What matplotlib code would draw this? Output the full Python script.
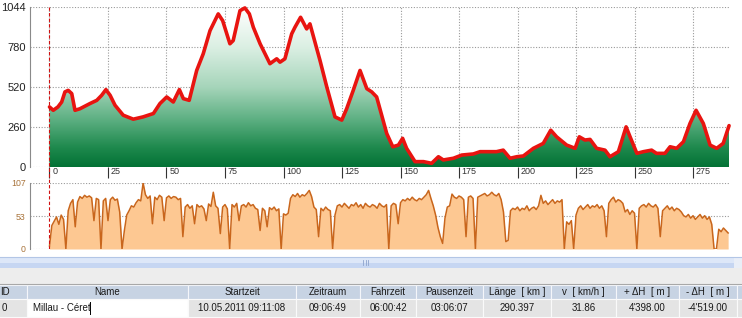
import numpy as np
import matplotlib
matplotlib.use("Agg")
import matplotlib.pyplot as plt
import matplotlib.transforms as mtransforms
from matplotlib.colors import LinearSegmentedColormap
from matplotlib.patches import Rectangle, Polygon

plt.rcParams['font.family'] = ['Liberation Sans', 'DejaVu Sans']

# elevation profile (km, m)
dist_km = [0, 1.6, 3.6, 5.2, 6.6, 8, 9.5, 10.9, 13, 17.3, 20.2, 22.3, 24.1, 25.9, 28,
           31.5, 35.8, 40, 44.4, 47.2, 50.1, 52.9, 55.5, 57.2, 59.7, 62.9, 65.7, 68.6,
           72.1, 74, 77.1, 78.5, 81.4, 83.5, 85.4, 87.1, 90, 94.2, 97.1, 98.5, 100.6,
           103.5, 104.9, 107.3, 109.9, 111.3, 115.6, 118.5, 122, 124.9, 127, 129.8,
           132.7, 135.6, 137.7, 139.8, 144.1, 146.7, 149.1, 150.9, 152.6, 156.2, 159.8,
           163.3, 166.2, 168.3, 172.6, 176.2, 181.1, 184, 188.2, 191, 193.9, 196.8,
           199.7, 202.5, 206.8, 211, 214.2, 216.7, 221, 224.6, 226.4, 228.8, 231,
           233.8, 237.4, 239.5, 243.1, 246.4, 248.1, 251, 253.8, 257.3, 259.4, 263,
           265.2, 268, 270.9, 273.7, 276.3, 279.4, 282.3, 285.1, 287.9, 290.4]
elev_m = [392, 370, 392, 424, 490, 500, 479, 370, 380, 414, 435, 468, 505, 468, 403,
          338, 312, 327, 349, 414, 457, 424, 505, 446, 435, 630, 739, 890,
          999, 955, 804, 825, 1020, 1038, 999, 912, 804, 674, 706, 684, 706,
          869, 912, 977, 901, 934, 695, 522, 327, 306, 381, 500,
          630, 511, 490, 457, 219, 132, 143, 187, 122, 35, 35,
          24, 67, 46, 57, 78, 85, 100, 100, 100, 110, 57,
          67, 72, 122, 154, 240, 197, 143, 122, 197, 176, 180,
          122, 110, 67, 100, 262, 197, 89, 100, 110, 89, 89,
          132, 122, 165, 284, 370, 284, 143, 122, 154, 270]

# speed, one reading per km
speed_km = list(range(0, 291))
speed_kmh = [5, 38, 45, 52, 40, 55, 48, 0, 62, 74,
             80, 36, 76, 85, 82, 87, 84, 86, 83, 46,
             82, 80, 0, 78, 82, 46, 80, 84, 79, 81,
             60, 0, 30, 55, 62, 70, 68, 75, 80, 78,
             107, 88, 82, 86, 41, 84, 80, 87, 84, 46,
             83, 86, 82, 85, 84, 80, 82, 20, 68, 72,
             66, 70, 41, 72, 68, 70, 65, 46, 73, 69,
             92, 70, 66, 25, 68, 72, 65, 0, 72, 68,
             74, 46, 70, 72, 68, 75, 70, 72, 66, 64,
             30, 66, 62, 36, 67, 64, 68, 62, 65, 0,
             57, 55, 58, 82, 88, 85, 90, 84, 88, 86,
             90, 95, 85, 68, 64, 20, 66, 62, 68, 64,
             62, 0, 55, 70, 72, 68, 74, 70, 66, 72,
             70, 75, 68, 72, 66, 74, 70, 68, 72, 70,
             66, 74, 70, 68, 72, 0, 70, 74, 72, 41,
             75, 80, 78, 82, 79, 84, 80, 78, 82, 80,
             84, 88, 95, 82, 70, 55, 35, 20, 9, 50,
             68, 70, 89, 84, 82, 86, 84, 80, 20, 84,
             86, 82, 0, 84, 86, 88, 90, 86, 88, 92,
             88, 86, 90, 80, 60, 12, 14, 62, 66, 64,
             68, 62, 66, 64, 70, 62, 66, 68, 64, 70,
             87, 74, 78, 72, 76, 80, 74, 78, 76, 80,
             0, 44, 40, 46, 0, 55, 66, 70, 64, 68,
             72, 66, 70, 68, 72, 66, 70, 62, 20, 74,
             80, 84, 76, 80, 78, 74, 60, 64, 56, 62,
             58, 0, 66, 70, 72, 68, 74, 70, 68, 72,
             66, 20, 62, 66, 70, 64, 68, 62, 66, 64,
             60, 54, 52, 56, 50, 54, 48, 52, 56, 50,
             54, 48, 52, 40, 0, 0, 32, 28, 34, 30,
             26]

elev_ticks = [0, 260, 520, 780, 1044]
speed_ticks = [0, 53, 107]
km_ticks = [0, 25, 50, 75, 100, 125, 150, 175, 200, 225, 250, 275]

table_headers = ["ID", "Name", "Startzeit", "Zeitraum", "Fahrzeit", "Pausenzeit",
                 "Länge  [ km ]", "v  [ km/h ]", "+ ΔH  [ m ]", "- ΔH  [ m ]", ""]
table_row = ["0", "Millau - Céret", "10.05.2011 09:11:08", "09:06:49", "06:00:42",
             "03:06:07", "290.397", "31.86", "4'398.00", "-4'519.00", ""]

W, H = 742, 318
fig = plt.figure(figsize=(W / 100, H / 100), dpi=100)


def px_axes(x0, y0, x1, y1, **kw):
    return fig.add_axes([x0 / W, 1 - y1 / H, (x1 - x0) / W, (y1 - y0) / H], **kw)


XLIM = (-8.33, 290.8)
GRID = dict(ls=(0, (1, 1.5)), color='#9a9a9a', lw=0.8)

# ---- background: scrollbar + table ----
bg = px_axes(0, 0, W, H, zorder=0)
bg.set_xlim(0, W)
bg.set_ylim(H, 0)
bg.axis('off')

bg.add_patch(Rectangle((0, 257), W, 5.5, color='#dde7f8', lw=0))
bg.add_patch(Rectangle((0, 262.5), W, 5.5, color='#c6d6f2', lw=0))
bg.plot([0, W], [257, 257], color='#b3c6e6', lw=0.8)
for gx in (363, 365.5, 368):
    bg.plot([gx, gx], [260, 265], color='#8ea4cc', lw=0.6)
bg.add_patch(Rectangle((734, 257), 8, 11, color='#e9eef7', lw=0))
bg.add_patch(Rectangle((0, 268), W, 16, color='#ededed', lw=0))
bg.plot([0, W], [284, 284], color='#a8a8a8', lw=0.8)

edges = [-20, 27, 188, 296, 360, 416, 483, 551, 616, 679, 737, 760]
for i, (h, v) in enumerate(zip(table_headers, table_row)):
    x0, x1 = edges[i], edges[i + 1]
    bg.add_patch(Rectangle((x0, 284.5), x1 - x0, 14, facecolor='#c7d3e3',
                           edgecolor='#f4f6fa', lw=0.8))
    cell = '#ffffff' if i == 1 else '#e4e4e4'
    bg.add_patch(Rectangle((x0, 299), x1 - x0, 18, facecolor=cell,
                           edgecolor='#fafafa', lw=0.8))
    if i == 0:
        bg.text(0, 292, h, ha='left', va='center', fontsize=7, color='#1a1a1a')
        bg.text(2, 308, v, ha='left', va='center', fontsize=7, color='#1a1a1a')
    elif i == 1:
        bg.text((x0 + x1) / 2, 292, h, ha='center', va='center', fontsize=7, color='#1a1a1a')
        bg.text(33, 308, v, ha='left', va='center', fontsize=7, color='#1a1a1a')
        bg.plot([89.5, 89.5], [302, 314], color='#000', lw=0.7)
    else:
        bg.text((x0 + x1) / 2, 292, h, ha='center', va='center', fontsize=7, color='#1a1a1a')
        bg.text((x0 + x1) / 2, 308, v, ha='center', va='center', fontsize=7, color='#1a1a1a')

# ---- elevation profile ----
ax = px_axes(30, 7, 730, 167, zorder=2)
cmap = LinearSegmentedColormap.from_list(
    'elev', [(0, '#037235'), (0.12, '#1e894d'), (0.3, '#5eb083'),
             (0.5, '#a6d5ba'), (0.75, '#dbefe3'), (1, '#ffffff')])
grad = np.linspace(0, 1, 256).reshape(-1, 1)
im = ax.imshow(grad, extent=[dist_km[0], dist_km[-1], 0, elev_ticks[-1]],
               origin='lower', cmap=cmap, aspect='auto', zorder=1)
verts = [(dist_km[0], 0)] + list(zip(dist_km, elev_m)) + [(dist_km[-1], 0)]
clip = Polygon(verts, closed=True, facecolor='none', edgecolor='none')
ax.add_patch(clip)
im.set_clip_path(clip)
ax.plot(dist_km, elev_m, color='#e81410', lw=2.6, zorder=3,
        solid_joinstyle='round', solid_capstyle='round', clip_on=False)

ax.set_xlim(*XLIM)
ax.set_ylim(0, elev_ticks[-1])
ax.set_yticks(elev_ticks)
ax.set_xticks(km_ticks)
ax.set_axisbelow(True)
ax.grid(True, **GRID)
for s in ('top', 'right', 'bottom'):
    ax.spines[s].set_visible(False)
ax.spines['left'].set_color('#8a8a8a')
ax.spines['left'].set_linewidth(0.8)
ax.tick_params(axis='y', length=0, pad=3, labelsize=8, labelcolor='#222')
ax.tick_params(axis='x', direction='out', length=8, width=0.8, color='#333',
               pad=-8, labelsize=6.5, labelcolor='#333')
shift = mtransforms.ScaledTranslation(2 / 72, 0, fig.dpi_scale_trans)
for lbl in ax.get_xticklabels():
    lbl.set_horizontalalignment('left')
    lbl.set_transform(lbl.get_transform() + shift)

blend = mtransforms.blended_transform_factory(ax.transData, ax.transAxes)
ax.plot([0, 0], [1, -0.1], transform=blend, color='#d01010', lw=0.8,
        ls=(0, (3, 2)), clip_on=False, zorder=4)

# ---- speed profile ----
sx = px_axes(30, 183, 730, 249, zorder=2)
sx.fill_between(speed_km, speed_kmh, 0, color='#fdc892', lw=0, zorder=1)
sx.plot(speed_km, speed_kmh, color='#c9661c', lw=1.1, zorder=2)
sx.axvline(0, color='#d01010', lw=0.8, ls=(0, (3, 2)), zorder=4)
sx.set_xlim(*XLIM)
sx.set_ylim(0, speed_ticks[-1])
sx.set_yticks(speed_ticks)
sx.set_xticks([])
sx.set_axisbelow(True)
sx.grid(True, axis='y', **GRID)
for s in ('top', 'right', 'bottom'):
    sx.spines[s].set_visible(False)
sx.spines['left'].set_color('#8a8a8a')
sx.spines['left'].set_linewidth(0.8)
sx.tick_params(axis='y', length=0, pad=3, labelsize=6.3, labelcolor='#a8733a')

fig.savefig('out.png', dpi=100)
